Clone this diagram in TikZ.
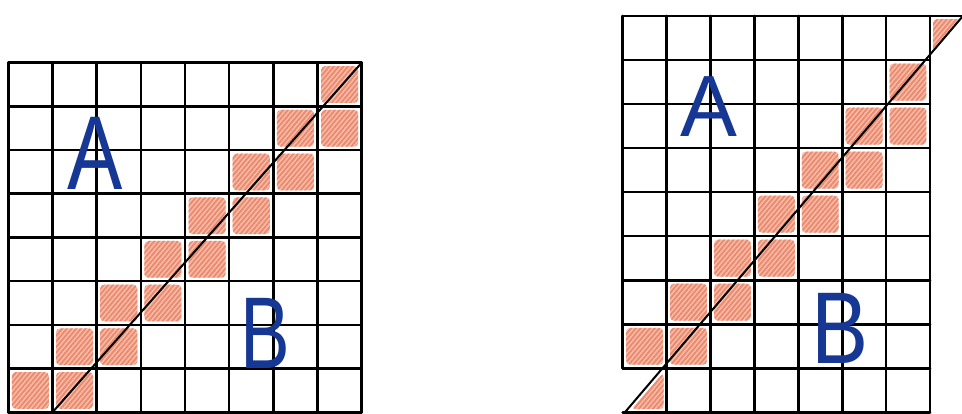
\documentclass[tikz,border=0pt]{standalone}
\usepackage{fontspec}
\setmainfont{Liberation Sans}
\usetikzlibrary{patterns.meta}
\definecolor{ink}{RGB}{22,56,148}
\definecolor{salmonlight}{RGB}{247,190,170}
\definecolor{salmon}{RGB}{236,138,112}
\begin{document}
\begin{tikzpicture}[x=1pt,y=-1pt,
  gridline/.style={line width=2.6pt, black, line cap=round},
  diag/.style={line width=2pt, black, line cap=round},
  hatch/.style={fill=salmonlight, rounded corners=4pt,
    postaction={pattern={Lines[angle=50, distance=3.6pt, line width=1.9pt]}, pattern color=salmon}},
  letter/.style={text=ink, inner sep=0pt, anchor=base}]
\fill[white] (0,0) rectangle (962,414);
\useasboundingbox (0,0) rectangle (962,414);

% ---------- left grid (8 x 8) ----------
\begin{scope}[shift={(8.3,412.3)}, x=44.175pt, y=43.7pt]
  \foreach \r in {0,...,7} {
    \path[hatch] ({\r+0.08},{\r+0.08}) rectangle ({\r+0.92},{\r+0.92});
  }
  \foreach \r in {0,...,6} {
    \path[hatch] ({\r+1.08},{\r+0.08}) rectangle ({\r+1.92},{\r+0.92});
  }
  \foreach \i in {0,...,8} \draw[gridline] (\i,0) -- (\i,8);
  \foreach \j in {0,...,8} \draw[gridline] (0,\j) -- (8,\j);
  \coordinate (L0) at (1,0);
  \coordinate (L1) at (8,8);
  \draw[diag] (L0) -- (L1);
\end{scope}

% ---------- right grid ----------
\begin{scope}[shift={(622.7,412.3)}, x=43.9pt, y=44.03pt]
  \path[hatch] (0.2,0.07) -- (0.93,0.07) -- (0.93,0.9) -- cycle;
  \foreach \r in {1,...,7} {
    \path[hatch] ({\r-0.92},{\r+0.08}) rectangle ({\r-0.08},{\r+0.92});
  }
  \foreach \r in {1,...,6} {
    \path[hatch] ({\r+0.08},{\r+0.08}) rectangle ({\r+0.92},{\r+0.92});
  }
  \path[hatch] (7.07,8.18) -- (7.07,8.93) -- (7.7,8.93) -- cycle;
  \draw[gridline] (0,1) -- (0,9);
  \foreach \i in {1,...,7} \draw[gridline] (\i,0) -- (\i,9);
  \foreach \j in {0,...,8} \draw[gridline] (0,\j) -- (7,\j);
  \draw[gridline] (0,9) -- (7.73,9);
  \coordinate (R0) at (0.05,0);
  \coordinate (R1) at (7.75,9);
  \draw[diag] (R0) -- (R1);
\end{scope}

% ---------- letters ----------
\node[letter, xscale=0.79, font=\fontsize{105}{105}\selectfont] (A1) at (95.5,190) {A};
\node[letter, xscale=0.73, font=\fontsize{102}{102}\selectfont] (B1) at (265,368) {B};
\node[letter, xscale=0.98, font=\fontsize{87}{87}\selectfont] (A2) at (708.5,137) {A};
\node[letter, xscale=0.84, font=\fontsize{102}{102}\selectfont] (B2) at (840,363) {B};
\end{tikzpicture}
\end{document}
